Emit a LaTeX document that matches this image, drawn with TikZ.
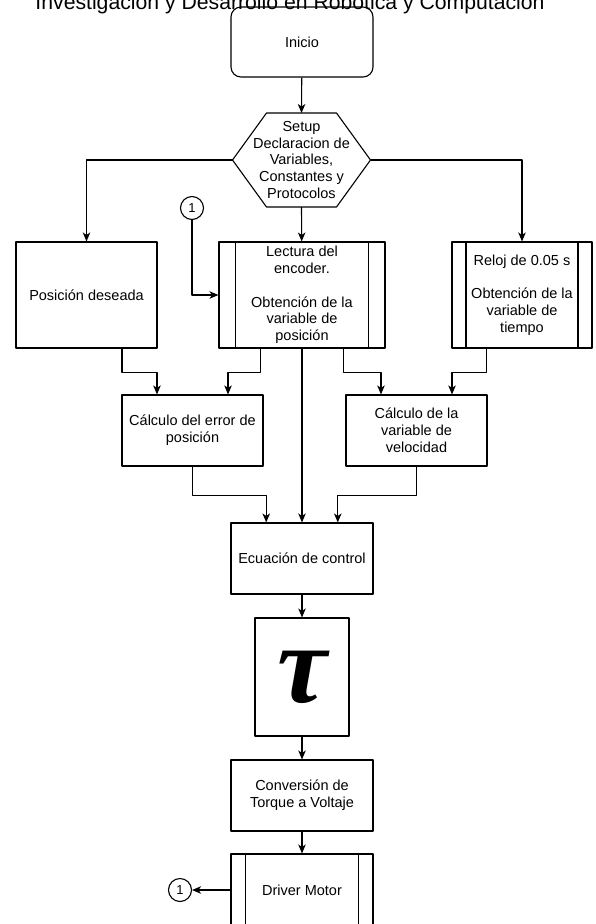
\documentclass[tikz,border=0pt]{standalone}
\usepackage{fontspec}
\setmainfont{Liberation Sans}
\newfontfamily\griega{Liberation Serif}
\usetikzlibrary{arrows.meta,calc}
\tikzset{
	caja/.style={draw, rectangle, minimum width=141pt, minimum height=71pt, align=center, inner sep=2pt},
	proceso/.style={caja, path picture={
			\draw ($(path picture bounding box.north west)!.1!(path picture bounding box.north east)$) -- ($(path picture bounding box.south west)!.1!(path picture bounding box.south east)$)
			($(path picture bounding box.north west)!.9!(path picture bounding box.north east)$) -- ($(path picture bounding box.south west)!.9!(path picture bounding box.south east)$);}},
	conector/.style={draw, circle, minimum size=23pt, inner sep=0pt, font=\fontsize{13}{13}\selectfont},
}
\begin{document}
\begin{tikzpicture}[x=1pt, y=-1pt, line width=1.1pt, line join=round, >={Stealth[length=9pt,width=7.5pt,inset=2.5pt]}, font=\fontsize{14.5}{16.8}\selectfont]
	\useasboundingbox (0,0) rectangle (595,924);
	\node[anchor=base, font=\fontsize{21.2}{21.2}\selectfont] (titulo) at (290,9) {Investigación y Desarrollo en Robótica y Computación};
	\node[caja, rounded corners=10pt, minimum width=142pt, minimum height=70pt] (inicio) at (302,42) {Inicio};
	% hexagono del setup
	\node[align=center] (setup) at (301.5,160) {Setup\\Declaracion de\\Variables,\\Constantes y\\Protocolos};
	\coordinate (hexN) at (301.5,113);
	\coordinate (hexS) at (301.5,207);
	\coordinate (hexL) at (232.5,160);
	\coordinate (hexR) at (370.5,160);
	\draw (266.5,113) -- (336.5,113) -- (hexR) -- (336.5,207) -- (266.5,207) -- (hexL) -- cycle;
	% bloques
	\node[caja, minimum height=106pt] (deseada) at (86.5,295) {Posición deseada};
	\node[proceso, minimum width=166pt, minimum height=106pt] (lectura) at (302,295) {Lectura del\\encoder.\\[16.8pt]Obtención de la\\variable de\\posición};
	\node[proceso, minimum width=140pt, minimum height=106pt] (reloj) at (522,295) {Reloj de 0.05 s\\[16.8pt]Obtención de la\\variable de\\tiempo};
	\node[caja] (error) at (192.5,430.5) {Cálculo del error de\\posición};
	\node[caja] (veloc) at (416.5,430.5) {Cálculo de la\\variable de\\velocidad};
	\node[caja, minimum width=142pt] (control) at (302,558.5) {Ecuación de control};
	\node[caja, minimum width=94pt, minimum height=118pt, font=\griega\bfseries\itshape\fontsize{112}{112}\selectfont] (tau) at (302,677) {τ};
	\node[caja, minimum width=142pt] (conv) at (302,795.5) {Conversión de\\Torque a Voltaje};
	\node[proceso, minimum width=142pt, minimum height=72pt] (driver) at (302,890) {Driver Motor};
	\node[conector] (ir) at (192,208) {1};
	\node[conector] (volver) at (180,890) {1};
	% flechas
	\draw[->] (inicio) -- (hexN);
	\draw[->] (hexL) -| (deseada);
	\draw[->] (hexR) -| (reloj);
	\draw[->] (hexS) -- (lectura);
	\draw[->] (ir) |- (lectura.west);
	\draw[->] ($(deseada.south west)!.75!(deseada.south east)$) -- ++(0,24) -| ($(error.north west)!.25!(error.north east)$);
	\draw[->] ($(lectura.south west)!.25!(lectura.south east)$) -- ++(0,24) -| ($(error.north west)!.75!(error.north east)$);
	\draw[->] ($(lectura.south west)!.75!(lectura.south east)$) -- ++(0,24) -| ($(veloc.north west)!.25!(veloc.north east)$);
	\draw[->] ($(reloj.south west)!.25!(reloj.south east)$) -- ++(0,24) -| ($(veloc.north west)!.75!(veloc.north east)$);
	\draw[->] (lectura) -- (control);
	\draw[->] (error.south) -- ++(0,29) -| ($(control.north west)!.25!(control.north east)$);
	\draw[->] (veloc.south) -- ++(0,29) -| ($(control.north west)!.75!(control.north east)$);
	\draw[->] (control) -- (tau);
	\draw[->] (tau) -- (conv);
	\draw[->] (conv) -- (driver);
	\draw[->] (driver.west) -- (volver);
\end{tikzpicture}
\end{document}
